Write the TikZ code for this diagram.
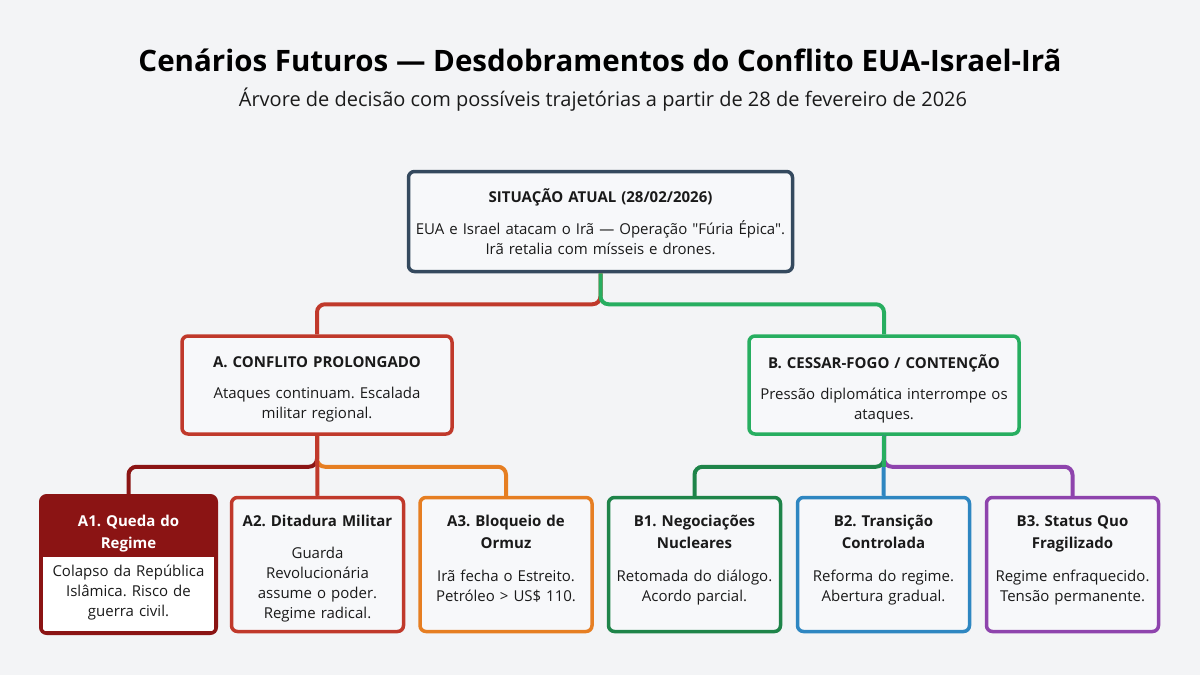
\documentclass[tikz,border=0pt]{standalone}
\usepackage{fontspec}
\setmainfont{Open Sans}[Ligatures=TeXOff]
\usetikzlibrary{calc}
\usetikzlibrary{positioning}
\frenchspacing

\definecolor{bg}{HTML}{F3F4F6}
\definecolor{boxfill}{HTML}{F7F8FA}
\definecolor{ink}{HTML}{1A1A1A}
\definecolor{slate}{HTML}{34495E}
\definecolor{colA}{HTML}{C0392B}
\definecolor{colB}{HTML}{27AE60}
\definecolor{colAone}{HTML}{8B1414}
\definecolor{colAthree}{HTML}{E67E22}
\definecolor{colBone}{HTML}{1E8449}
\definecolor{colBtwo}{HTML}{2E86C1}
\definecolor{colBthree}{HTML}{8E44AD}

\begin{document}
\begin{tikzpicture}[x=1pt,y=-1pt,
    box/.style={draw=#1,line width=3.5pt,rounded corners=6pt,fill=boxfill,inner sep=0pt},
    topbox/.style={box=#1,minimum width=270pt,minimum height=98pt},
    leaf/.style={box=#1,minimum width=172pt,minimum height=134pt},
    link/.style={line width=4pt,rounded corners=8pt},
    boxtext/.style={font=\fontsize{15}{20}\selectfont,align=center,text=ink,
        text width=168pt,inner sep=0pt},
    leaftext/.style={boxtext,anchor=north}]

    % page and titles
    \useasboundingbox[fill=bg] (0,0) rectangle (1200,675);
    \node[font=\bfseries\fontsize{29.5}{34}\selectfont,text=black] (title) at (600,60)
        {Cenários Futuros — Desdobramentos do Conflito EUA-Israel-Irã};
    \node[font=\fontsize{20}{24}\selectfont,text=ink] (subtitle) at (603,100)
        {Árvore de decisão com possíveis trajetórias a partir de 28 de fevereiro de 2026};

    % boxes
    \node[box=slate,minimum width=384pt,minimum height=100pt] (sit) at (600.5,221.5) {};
    \node[topbox=colA] (A) at (317,385) {};
    \node[topbox=colB] (B) at (884,385) {};
    \node[boxtext,text width=380pt] (sitt) at (sit)
        {\textbf{SITUAÇÃO ATUAL (28/02/2026)}\\[12pt]
         EUA e Israel atacam o Irã — Operação "Fúria Épica".\\Irã retalia com mísseis e drones.};
    \node[boxtext,text width=262pt] (At) at ($(A)+(0,4)$)
        {\textbf{A. CONFLITO PROLONGADO}\\[11pt]Ataques continuam. Escalada\\militar regional.};
    \node[boxtext,text width=262pt] (Bt) at ($(B)+(0,4)$)
        {\textbf{B. CESSAR-FOGO / CONTENÇÃO}\\[11pt]Pressão diplomática interrompe os\\ataques.};

    \node[leaf=colAone,fill=colAone] (A1) at (128.5,564.5) {};
    \fill[white] ($(A1.south west)+(1.8,-1.8)$) rectangle ($(A1.south east)+(-1.8,-76)$);
    \draw[colAone,line width=3.5pt,rounded corners=6pt] (A1.south west) rectangle (A1.north east);
    \node[leaf=colA] (A2) at (317.5,564.5) {};
    \node[leaf=colAthree] (A3) at (506,564.5) {};
    \node[leaf=colBone] (B1) at (694.5,564.5) {};
    \node[leaf=colBtwo] (B2) at (883.5,564.5) {};
    \node[leaf=colBthree] (B3) at (1072.5,564.5) {};

    % leaf texts
    \node[leaftext] (A1t) at ($(A1.north)+(0,17)$)
        {\strut\color{white}\textbf{A1. Queda do}\\[2pt]\textbf{Regime}\\[8pt]
         \color{ink}Colapso da República\\Islâmica. Risco de\\guerra civil.};
    \node[leaftext] (A2t) at ($(A2.north)+(0,17)$)
        {\strut\textbf{A2. Ditadura Militar}\\[12pt]Guarda\\Revolucionária\\assume o poder.\\Regime radical.};
    \node[leaftext] (A3t) at ($(A3.north)+(0,17)$)
        {\strut\textbf{A3. Bloqueio de}\\[2pt]\textbf{Ormuz}\\[13pt]Irã fecha o Estreito.\\Petróleo > US\$ 110.};
    \node[leaftext] (B1t) at ($(B1.north)+(0,17)$)
        {\strut\textbf{B1. Negociações}\\[2pt]\textbf{Nucleares}\\[13pt]Retomada do diálogo.\\Acordo parcial.};
    \node[leaftext] (B2t) at ($(B2.north)+(0,17)$)
        {\strut\textbf{B2. Transição}\\[2pt]\textbf{Controlada}\\[13pt]Reforma do regime.\\Abertura gradual.};
    \node[leaftext] (B3t) at ($(B3.north)+(0,17)$)
        {\strut\textbf{B3. Status Quo}\\[2pt]\textbf{Fragilizado}\\[13pt]Regime enfraquecido.\\Tensão permanente.};

    % connectors
    \draw[link,colA] (sit.south) -- ++(0,31) -| (A.north);
    \draw[link,colB] (sit.south) -- ++(0,31) -| (B.north);

    \draw[link,colAone] (A.south) -- ++(0,31) -| (A1.north);
    \draw[link,colAthree] (A.south) -- ++(0,31) -| (A3.north);
    \draw[link,colA] (A.south) -- (A2.north);

    \draw[link,colBone] (B.south) -- ++(0,31) -| (B1.north);
    \draw[link,colBthree] (B.south) -- ++(0,31) -| (B3.north);
    \draw[link,colBtwo] (B.south) -- (B2.north);
    \draw[link,colB] (B.south) -- ++(0,31);
\end{tikzpicture}
\end{document}
